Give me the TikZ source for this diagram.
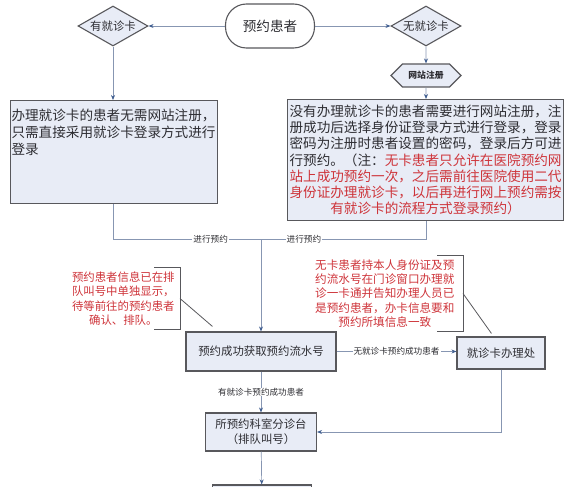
\documentclass[tikz,border=0pt]{standalone}
\usepackage{fontspec}
\setmainfont{Noto Sans CJK SC}
\usetikzlibrary{arrows.meta,shapes.geometric,shapes.symbols}

\definecolor{boxfill}{RGB}{232,236,246}
\definecolor{boxline}{RGB}{88,88,92}
\definecolor{linkline}{RGB}{135,150,178}
\definecolor{tipblue}{RGB}{65,95,145}
\definecolor{notered}{RGB}{206,52,58}
\definecolor{txt}{RGB}{45,45,50}
\newcommand{\rd}[1]{\textcolor{notered}{#1}}

\begin{document}
\begin{tikzpicture}[
  x = 1pt, y = -1pt,
  every node/.style = {text=txt},
  big/.style = {font=\fontsize{13.6}{16.2}\selectfont},
  mid/.style = {font=\fontsize{11.4}{14.5}\selectfont},
  box/.style = {draw=boxline, line width=1.1pt, fill=boxfill, rectangle,
                align=center, inner sep=1pt},
  terminal/.style = {box, big, fill=white, rounded corners=21pt,
                     minimum width=89pt, minimum height=44pt},
  choice/.style = {box, mid, diamond, aspect=1.7, inner sep=0pt,
                   minimum width=70pt, minimum height=40pt},
  webreg/.style = {box, signal, signal to=east and west, inner sep=0pt,
                   minimum width=70pt, minimum height=23pt,
                   font=\fontsize{8.8}{10}\selectfont\bfseries},
  note/.style = {mid, align=center, text=notered, inner ysep=0pt},
  lbl/.style  = {font=\fontsize{8.6}{10}\selectfont, fill=white,
                 inner xsep=1pt, inner ysep=0.5pt},
  link/.style = {draw=linkline, line width=0.7pt},
  go/.style   = {link, -{Stealth[length=5pt, width=4pt, color=tipblue]}},
  bracket/.style = {draw=boxline, line width=0.8pt},
]
\useasboundingbox (0,0) rectangle (571,487);
\clip (0,0) rectangle (571,487);

% --- Top row: patient and the two card cases ---------------------------
\node[terminal] (patient) at (270,26) {预约患者};
\node[choice] (hascard) at (113,26) {有就诊卡};
\node[choice] (nocard) at (426,26) {无就诊卡};
\draw[go] (patient) -- (hascard);
\draw[go] (patient) -- (nocard);

\node[webreg] (register) at (426,75.5) {网站注册};
\draw[go] (nocard) -- (register);

% --- Login text boxes ----------------------------------------------------
\node[box, big, anchor=north west, minimum width=207pt, minimum height=103pt,
      inner xsep=0pt, inner ysep=8pt] (cardlogin) at (10,100)
  {\parbox[c][87pt][t]{205pt}{\fontsize{13.6}{17}\selectfont
   办理就诊卡的患者无需网站注册，\\
   只需直接采用就诊卡登录方式进行\\
   登录}};
\draw[go] (hascard) -- (hascard |- cardlogin.north);

\node[box, big, anchor=north west, minimum width=276pt, minimum height=121pt,
      text width=273pt] (idlogin) at (287,99)
  {没有办理就诊卡的患者需要进行网站注册，注\\
   册成功后选择身份证登录方式进行登录，登录\\
   密码为注册时患者设置的密码，登录后方可进\\
   行预约。（注：\rd{无卡患者只允许在医院预约网}\\
   \rd{站上成功预约一次，之后需前往医院使用二代}\\
   \rd{身份证办理就诊卡，以后再进行网上预约需按}\\
   \rd{有就诊卡的流程方式登录预约）}};
\draw[go] (register) -- (register |- idlogin.north);

% --- Both ways join into one booking -------------------------------------
\coordinate (merge) at (261,239);
\draw[link] (hascard |- cardlogin.south) |- node[lbl, pos=0.83] {进行预约} (merge);
\draw[link] (register |- idlogin.south) |- node[lbl, pos=0.87] {进行预约} (merge);

\node[box, mid, minimum width=150pt, minimum height=39pt] (gotnum) at (261,351.5)
  {预约成功获取预约流水号};
\draw[go] (merge) -- (gotnum);

\node[box, mid, minimum width=88pt, minimum height=32pt] (cardoffice) at (501,353)
  {就诊卡办理处};
\draw[go] (gotnum.east) -- node[lbl] {无就诊卡预约成功患者} (gotnum.east -| cardoffice.west);

\node[box, mid, minimum width=111pt, minimum height=38pt,
      font=\fontsize{11.4}{15}\selectfont] (triage) at (261,432)
  {所预约科室分诊台\\（排队叫号）};
\draw[go] (gotnum) -- node[lbl] {有就诊卡预约成功患者} (triage);
\draw[go] (cardoffice) |- (triage);

\node[box, minimum width=99pt, minimum height=40pt] (nextstep) at (262,505) {};
\draw[go] (triage) -- (nextstep);

% --- Side notes with their brackets --------------------------------------
\node[note, text width=103pt, inner xsep=5pt, minimum height=61pt, anchor=east]
  (queuenote) at (180,298.5)
  {预约患者信息已在排\\
   队叫号中单独显示，\\
   待等前往的预约患者\\
   确认、排队。};
\draw[bracket] ([xshift=-26pt]queuenote.north east) -- (queuenote.north east)
  -- (queuenote.south east) -- ++(-26pt,0);
\draw[bracket] (queuenote.east) -- ([xshift=27pt, yshift=5pt]gotnum.north west);

\node[note, text width=140pt, inner xsep=8pt, minimum height=75pt, anchor=east,
      font=\fontsize{11.6}{14.3}\selectfont]
  (cardnote) at (463,293.5)
  {无卡患者持本人身份证及预\\
   约流水号在门诊窗口办理就\\
   诊一卡通并告知办理人员已\\
   是预约患者，办卡信息要和\\
   预约所填信息一致};
\draw[bracket] ([xshift=-26pt]cardnote.north east) -- (cardnote.north east)
  -- (cardnote.south east) -- ++(-26pt,0);
\draw[bracket] (cardnote.east) -- ([xshift=35pt, yshift=3pt]cardoffice.north west);

\end{tikzpicture}
\end{document}
